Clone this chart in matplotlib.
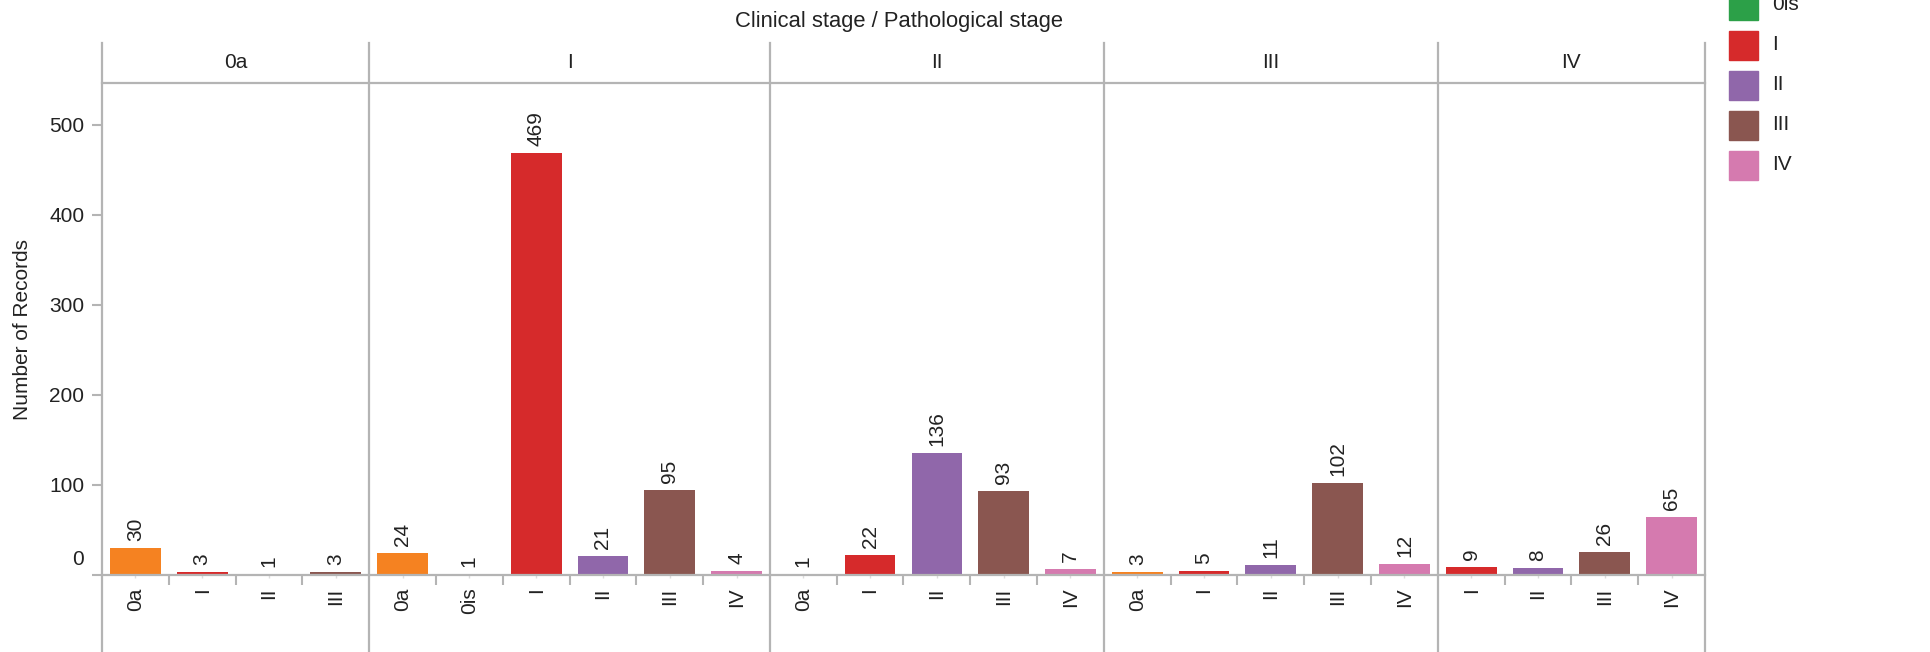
import matplotlib
matplotlib.use("Agg")
import matplotlib.pyplot as plt
from matplotlib.patches import Rectangle

plt.rcParams['font.family'] = ['Liberation Sans', 'DejaVu Sans']
FS = 15
plt.rcParams['font.size'] = FS

# clinical stage facets, with the pathological stages found in each
clinical = ['0a', 'I', 'II', 'III', 'IV']
patho = [
    ['0a', 'I', 'II', 'III'],
    ['0a', '0is', 'I', 'II', 'III', 'IV'],
    ['0a', 'I', 'II', 'III', 'IV'],
    ['0a', 'I', 'II', 'III', 'IV'],
    ['I', 'II', 'III', 'IV'],
]
counts = [
    [30, 3, 1, 3],
    [24, 1, 469, 21, 95, 4],
    [1, 22, 136, 93, 7],
    [3, 5, 11, 102, 12],
    [9, 8, 26, 65],
]
legend_stages = ['0a', '0is', 'I', 'II', 'III', 'IV']
stage_colors = ['#f58221', '#2ca048', '#d62a2b', '#9067aa', '#8a5650', '#d57aaf']
color_of = dict(zip(legend_stages, stage_colors))

GREY = '#b4b4b4'
TXT = '#222222'
W, H = 1930, 652

fig = plt.figure(figsize=(W / 100, H / 100), dpi=100)
ax_l, ax_r, ax_t, ax_b = 102, 1705, 83, 575
ax = fig.add_axes([ax_l / W, 1 - ax_b / H, (ax_r - ax_l) / W, (ax_b - ax_t) / H])
ymax = (ax_b - ax_t) / 0.9
ax.set_ylim(0, ymax)

# flatten facets into slots
xs, vals, cols, labels = [], [], [], []
bounds = [0]
inner = []
pos = 0
for stages, cnt in zip(patho, counts):
    for k, (s, v) in enumerate(zip(stages, cnt)):
        xs.append(pos + 0.5)
        vals.append(v)
        cols.append(color_of[s])
        labels.append(s)
        pos += 1
        if k < len(stages) - 1:
            inner.append(pos)
    bounds.append(pos)
ax.set_xlim(0, pos)

ax.bar(xs, vals, width=0.76, color=cols, zorder=2)
for x, v in zip(xs, vals):
    ax.annotate(str(v), xy=(x, v), xytext=(0, 5), textcoords='offset points',
                rotation=90, ha='center', va='bottom', color=TXT, fontsize=FS)

# facet dividers run from the header down past the axis
h_ax = ax_b - ax_t
for b in bounds:
    ax.axvline(b, ymin=(ax_b - H) / h_ax, ymax=(ax_b - 43) / h_ax,
               color=GREY, lw=1.6, clip_on=False, zorder=3)

# facet headers and title
for name, a, b in zip(clinical, bounds[:-1], bounds[1:]):
    ax.text((a + b) / 2, (ax_b - 62) / h_ax, name, transform=ax.get_xaxis_transform(),
            ha='center', va='center', color=TXT, fontsize=FS)
ax.text(0.497, (ax_b - 22) / h_ax, 'Clinical stage / Pathological stage', transform=ax.transAxes,
        ha='center', va='center', color=TXT, fontsize=FS + 0.8)

for side in ['left', 'right']:
    ax.spines[side].set_visible(False)
for side in ['top', 'bottom']:
    ax.spines[side].set_color(GREY)
    ax.spines[side].set_linewidth(1.6)

# y axis
yt = [0, 100, 200, 300, 400, 500]
ax.set_yticks(yt)
ax.set_yticklabels([''] + [str(t) for t in yt[1:]])
ax.tick_params(axis='y', length=7.2, width=1.5, color=GREY, pad=5.5, labelcolor=TXT, labelsize=FS)
ax.annotate('0', xy=(0, 0), xycoords=('axes fraction', 'data'), xytext=(-12.7, 11),
            textcoords='offset points', ha='right', va='center', color=TXT, fontsize=FS)
fig.text(23 / W, 1 - (ax_t + ax_b) / 2 / H, 'Number of Records', rotation=90,
         ha='center', va='center', color=TXT, fontsize=FS)

# x axis
ax.set_xticks(xs)
ax.set_xticklabels(labels, rotation=90, va='top', ha='center')
ax.tick_params(axis='x', which='major', length=2, width=1, color='#dddddd', pad=7, labelcolor=TXT, labelsize=FS)
ax.set_xticks(inner, minor=True)
ax.tick_params(axis='x', which='minor', length=7.2, width=1.5, color=GREY)

# legend, scrolled so its top rows are cut off
for k, (s, c) in enumerate(zip(legend_stages, stage_colors)):
    yc = -35 + 40 * k
    fig.add_artist(Rectangle((1729 / W, 1 - (yc + 14.5) / H), 29 / W, 29 / H,
                             transform=fig.transFigure, color=c))
    fig.text(1772 / W, 1 - yc / H, s, ha='left', va='center', color=TXT, fontsize=FS)

fig.savefig('out.png', dpi=100)
